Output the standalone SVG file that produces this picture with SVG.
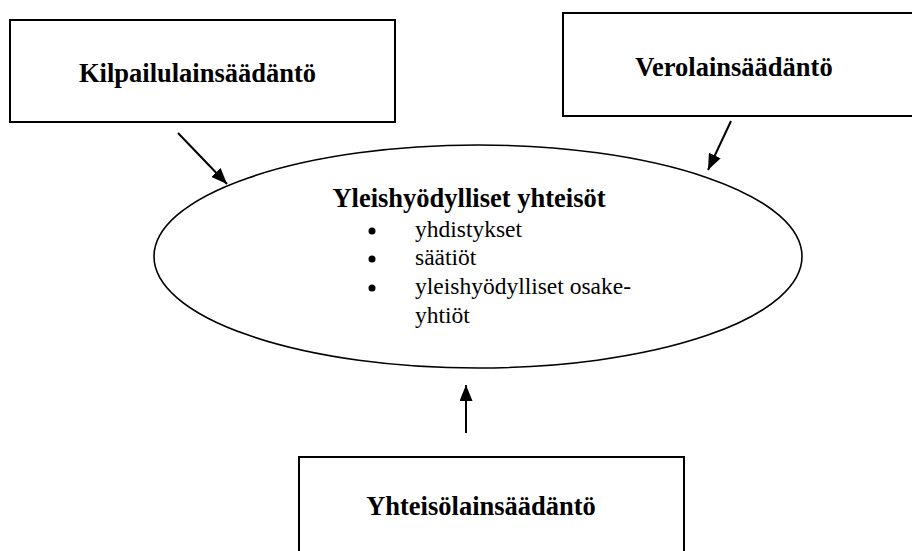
<svg xmlns="http://www.w3.org/2000/svg" width="912" height="551" viewBox="0 0 912 551">
<style>
.box{fill:#fff;stroke:#000;stroke-width:2}
.ell{fill:#fff;stroke:#000;stroke-width:1.6}
.t{font-family:'Liberation Serif','Times New Roman',serif;fill:#000}
.b{font-weight:bold;font-size:26.5px}
.r{font-size:23.5px}
.c{stroke:#000;stroke-width:2;fill:none}
</style>
<defs>
<marker id="ah" viewBox="0 0 16 13" refX="16" refY="6.5" markerWidth="16" markerHeight="13" markerUnits="userSpaceOnUse" orient="auto">
<path d="M0,0 L16,6.5 L0,13 z" fill="#000"/>
</marker>
</defs>
<rect width="912" height="551" fill="#fff"/>
<g id="kilpailu">
<rect class="box" x="10" y="20" width="385" height="102"/>
<text class="t b" x="197.5" y="82" text-anchor="middle">Kilpailulainsäädäntö</text>
</g>
<g id="vero">
<rect class="box" x="563" y="13" width="360" height="103"/>
<text class="t b" x="734" y="76" text-anchor="middle">Verolainsäädäntö</text>
</g>
<g id="yhteiso">
<rect class="box" x="299" y="457" width="385" height="110"/>
<text class="t b" x="481" y="515" text-anchor="middle">Yhteisölainsäädäntö</text>
</g>
<g id="yleishyodylliset">
<ellipse class="ell" cx="478" cy="256.5" rx="324" ry="111.5"/>
<text class="t b" x="469" y="207" text-anchor="middle">Yleishyödylliset yhteisöt</text>
<circle cx="372" cy="231" r="3.5"/>
<circle cx="372" cy="259" r="3.5"/>
<circle cx="372" cy="288" r="3.5"/>
<text class="t r" x="415" y="237">yhdistykset</text>
<text class="t r" x="415" y="265">säätiöt</text>
<text class="t r" x="415" y="294">yleishyödylliset osake-</text>
<text class="t r" x="415" y="323">yhtiöt</text>
</g>
<g id="connectors">
<line class="c" x1="178" y1="133" x2="227" y2="184" marker-end="url(#ah)"/>
<line class="c" x1="731" y1="121" x2="708" y2="170" marker-end="url(#ah)"/>
<line class="c" x1="466" y1="433" x2="466" y2="385" marker-end="url(#ah)"/>
</g>
</svg>
